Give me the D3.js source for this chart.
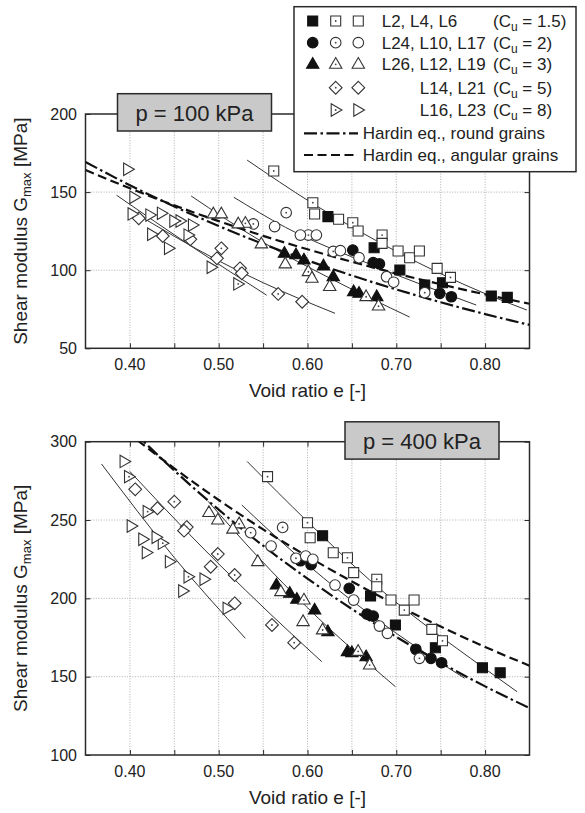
<!DOCTYPE html>
<html>
<head>
<meta charset="utf-8">
<script src="https://cdn.jsdelivr.net/npm/d3@7"></script>
<style>
  body { margin: 0; background: #fff; }
  svg { display: block; }
  text { font-family: "Liberation Sans", Arial, Helvetica, sans-serif; fill: #222; }
</style>
</head>
<body>
<svg id="chart" width="585" height="813"></svg>
<script>
// ---- Measured data: [void ratio e, Gmax in MPa] ----
// p = 100 kPa
const L2_p100  = [[0.623,134.3],[0.675,114.4],[0.704,100.1],[0.732,90.5],[0.752,92.0],[0.807,83.5],[0.825,82.6]];
const L4_p100  = [[0.562,163.5],[0.606,143.2],[0.651,130.4],[0.684,122.5],[0.761,95.4]];
const L6_p100  = [[0.608,136.0],[0.635,132.6],[0.657,125.1],[0.684,117.2],[0.702,112.3],[0.715,108.0],[0.726,112.3],[0.746,101.2]];
const L24_p100 = [[0.651,112.9],[0.674,104.8],[0.681,104.0],[0.749,85.2],[0.762,83.0]];
const L10_p100 = [[0.539,129.6],[0.576,136.8],[0.601,122.5],[0.629,112.0],[0.732,85.6]];
const L17_p100 = [[0.563,127.9],[0.592,122.5],[0.610,122.5],[0.637,112.5],[0.658,108.0],[0.689,95.8],[0.697,92.3]];
const L26_p100 = [[0.574,110.8],[0.587,109.8],[0.596,106.5],[0.618,102.7],[0.629,95.8],[0.652,86.2],[0.658,85.2],[0.678,83.0]];
const L12_p100 = [[0.530,130.0],[0.601,99.0],[0.666,83.0],[0.680,77.0]];
const L19_p100 = [[0.494,136.0],[0.503,136.0],[0.522,129.6],[0.548,116.8],[0.575,104.0],[0.605,94.8],[0.625,89.5]];
const L14_p100 = [[0.503,114.0],[0.524,101.2],[0.567,84.8]];
const L21_p100 = [[0.410,133.2],[0.437,121.9],[0.468,119.8],[0.498,107.6],[0.526,98.0],[0.594,79.8]];
const L16_p100 = [[0.457,131.5],[0.522,91.2]];
const L23_p100 = [[0.398,164.6],[0.405,146.7],[0.403,136.0],[0.423,135.3],[0.425,123.0],[0.436,136.4],[0.444,114.0],[0.450,131.5],[0.466,122.5],[0.471,128.9],[0.492,101.9]];

// p = 400 kPa
const L2_p400  = [[0.617,240.0],[0.671,201.5],[0.699,183.0],[0.744,168.5],[0.797,155.7],[0.817,152.5]];
const L4_p400  = [[0.555,277.7],[0.600,248.3],[0.645,225.9],[0.678,212.2],[0.709,192.5],[0.752,172.9]];
const L6_p400  = [[0.603,238.7],[0.629,229.1],[0.652,216.4],[0.678,207.4],[0.694,198.9],[0.720,198.9],[0.740,180.2]];
const L24_p400 = [[0.592,224.0],[0.604,221.5],[0.647,206.4],[0.667,190.0],[0.674,188.7],[0.722,167.5],[0.739,161.7],[0.751,158.9]];
const L10_p400 = [[0.536,241.9],[0.572,245.3],[0.587,225.6],[0.726,161.7]];
const L17_p400 = [[0.559,233.4],[0.598,227.0],[0.606,224.9],[0.631,208.5],[0.652,198.9],[0.681,182.3],[0.690,177.7]];
const L26_p400 = [[0.565,208.5],[0.580,203.2],[0.588,199.4],[0.608,192.5],[0.623,178.7],[0.645,165.9],[0.650,165.3],[0.666,162.7]];
const L12_p400 = [[0.523,247.5],[0.596,198.9],[0.617,179.8],[0.657,166.1],[0.670,157.4]];
const L19_p400 = [[0.489,254.7],[0.499,250.0],[0.516,244.1],[0.544,223.4],[0.570,204.2],[0.595,185.1]];
const L14_p400 = [[0.450,261.7],[0.464,245.5],[0.499,228.3],[0.518,214.9],[0.560,183.0],[0.585,171.7]];
const L21_p400 = [[0.406,269.6],[0.431,257.5],[0.461,243.2],[0.491,220.2],[0.518,196.8]];
const L16_p400 = [[0.399,277.7],[0.420,255.3],[0.437,235.2],[0.466,213.8]];
const L23_p400 = [[0.394,287.4],[0.402,246.2],[0.415,237.7],[0.419,229.2],[0.430,239.0],[0.445,223.4],[0.460,204.7],[0.484,212.2],[0.510,193.6]];

// Fitted trend curves for each Cu group
const fitCu15_p100 = [[0.532,170.5],[0.605,143.0],[0.700,112.0],[0.800,85.0],[0.847,74.5]];
const fitCu2_p100  = [[0.517,146.7],[0.575,127.5],[0.674,103.0],[0.790,77.7]];
const fitCu3_p100  = [[0.469,147.5],[0.548,118.5],[0.630,93.5],[0.715,70.0]];
const fitCu5_p100  = [[0.400,138.5],[0.500,106.0],[0.550,92.0],[0.631,72.4]];
const fitCu8_p100  = [[0.385,148.0],[0.470,115.0],[0.554,84.0]];
const fitCu15_p400 = [[0.532,287.4],[0.600,249.0],[0.670,211.7],[0.800,155.0],[0.836,140.4]];
const fitCu2_p400  = [[0.526,259.6],[0.580,231.4],[0.631,207.0],[0.700,177.7],[0.777,149.0]];
const fitCu3_p400  = [[0.488,262.0],[0.545,226.0],[0.600,194.0],[0.699,143.6]];
const fitCu5_p400  = [[0.400,281.0],[0.460,245.0],[0.500,222.0],[0.560,189.0],[0.616,159.6]];
const fitCu8_p400  = [[0.368,285.8],[0.450,226.0],[0.530,174.5]];

// Hardin equation curves
const hardinE = [0.35,0.40,0.45,0.50,0.55,0.60,0.65,0.70,0.75,0.80,0.85];
const hardinRound_p100   = [169.3,154.4,140.8,128.3,116.8,106.3,96.6,87.7,79.5,71.9,65.0];
const hardinAngular_p100 = [164.2,152.4,141.5,131.4,122.0,113.4,105.4,97.9,91.0,84.5,78.5];
const hardinRound_p400   = [338.6,308.8,281.6,256.6,233.6,212.6,193.2,175.4,159.0,143.8,130.0];
const hardinAngular_p400 = [328.4,304.8,283.0,262.8,244.0,226.8,210.8,195.8,182.0,169.0,157.0];

// Axis ticks
const xTickValues  = [0.40,0.45,0.50,0.55,0.60,0.65,0.70,0.75,0.80];
const xLabelValues = [0.40,0.50,0.60,0.70,0.80];
const yTicks_p100  = [50,100,150,200];
const yTicks_p400  = [100,150,200,250,300];

// Sample descriptions
const samples = [
  {name:'L2',  shape:'square',   style:'filled', p100:L2_p100,  p400:L2_p400},
  {name:'L4',  shape:'square',   style:'dotted', p100:L4_p100,  p400:L4_p400},
  {name:'L6',  shape:'square',   style:'open',   p100:L6_p100,  p400:L6_p400},
  {name:'L24', shape:'circle',   style:'filled', p100:L24_p100, p400:L24_p400},
  {name:'L10', shape:'circle',   style:'dotted', p100:L10_p100, p400:L10_p400},
  {name:'L17', shape:'circle',   style:'open',   p100:L17_p100, p400:L17_p400},
  {name:'L26', shape:'triangle', style:'filled', p100:L26_p100, p400:L26_p400},
  {name:'L12', shape:'triangle', style:'dotted', p100:L12_p100, p400:L12_p400},
  {name:'L19', shape:'triangle', style:'open',   p100:L19_p100, p400:L19_p400},
  {name:'L14', shape:'diamond',  style:'dotted', p100:L14_p100, p400:L14_p400},
  {name:'L21', shape:'diamond',  style:'open',   p100:L21_p100, p400:L21_p400},
  {name:'L16', shape:'triRight', style:'dotted', p100:L16_p100, p400:L16_p400},
  {name:'L23', shape:'triRight', style:'open',   p100:L23_p100, p400:L23_p400}
];

const legendRows = [
  {shape:'square',   styles:['filled','dotted','open'], names:'L2, L4, L6',    cu:'1.5', align:'start'},
  {shape:'circle',   styles:['filled','dotted','open'], names:'L24, L10, L17', cu:'2',   align:'start'},
  {shape:'triangle', styles:['filled','dotted','open'], names:'L26, L12, L19', cu:'3',   align:'start'},
  {shape:'diamond',  styles:[null,'dotted','open'],     names:'L14, L21',      cu:'5',   align:'end'},
  {shape:'triRight', styles:[null,'dotted','open'],     names:'L16, L23',      cu:'8',   align:'end'}
];

// ---- Drawing ----
const svg = d3.select('#chart');
const INK = '#2a2a2a';
const ROUND_DASH = '13,3.5,2.5,3.5';
const ANGULAR_DASH = '9,4.5';

const shapePath = {
  square:   'M-5,-5H5V5H-5Z',
  circle:   d3.symbol(d3.symbolCircle, Math.PI * 5.3 * 5.3)(),
  triangle: 'M0,-6.8L6.2,3.9L-6.2,3.9Z',
  diamond:  'M0,-6.4L6.4,0L0,6.4L-6.4,0Z',
  triRight: 'M-4.5,-6.2L6.2,0L-4.5,6.2Z'
};

function drawMarker(g, shape, style, cx, cy) {
  const m = g.append('g').attr('transform', `translate(${cx},${cy})`);
  m.append('path')
    .attr('d', shapePath[shape])
    .attr('fill', style === 'filled' ? '#111' : '#fff')
    .attr('stroke', style === 'filled' ? '#111' : '#333')
    .attr('stroke-width', 1.1);
  if (style === 'dotted') {
    m.append('circle').attr('r', 0.9).attr('fill', '#444');
  }
}

const x = d3.scaleLinear().domain([0.35, 0.85]).range([85.5, 529.5]);

const panels = [
  {key:'p100', domain:[50,200],  range:[348.3,114],  yTicks:yTicks_p100, label:'p = 100 kPa', box:[117.5,93.7],
   fits:[fitCu15_p100,fitCu2_p100,fitCu3_p100,fitCu5_p100,fitCu8_p100],
   round:hardinRound_p100, angular:hardinAngular_p100},
  {key:'p400', domain:[100,300], range:[755,441.7],  yTicks:yTicks_p400, label:'p = 400 kPa', box:[345,421.8],
   fits:[fitCu15_p400,fitCu2_p400,fitCu3_p400,fitCu5_p400,fitCu8_p400],
   round:hardinRound_p400, angular:hardinAngular_p400}
];

panels.forEach((P, i) => {
  const y = d3.scaleLinear().domain(P.domain).range(P.range);
  const [x0, x1] = x.range();
  const yb = P.range[0], yt = P.range[1];
  const g = svg.append('g');

  const clipId = 'clip-' + P.key;
  svg.append('clipPath').attr('id', clipId)
    .append('rect').attr('x', x0).attr('y', yt).attr('width', x1 - x0).attr('height', yb - yt);

  // grid
  const grid = g.append('g').attr('stroke', '#9a9a9a').attr('stroke-width', 0.8).attr('stroke-dasharray', '1,1.6');
  grid.selectAll('line.v').data(xTickValues).join('line')
    .attr('x1', d => x(d)).attr('x2', d => x(d)).attr('y1', yt).attr('y2', yb);
  grid.selectAll('line.h').data(P.yTicks.filter(v => v > P.domain[0] && v < P.domain[1])).join('line')
    .attr('x1', x0).attr('x2', x1).attr('y1', d => y(d)).attr('y2', d => y(d));

  // axes (inward ticks on all four sides)
  const axB = g.append('g').attr('transform', `translate(0,${yb})`)
    .call(d3.axisTop(x).tickValues(xTickValues).tickSize(5).tickFormat(''));
  const axT = g.append('g').attr('transform', `translate(0,${yt})`)
    .call(d3.axisBottom(x).tickValues(xTickValues).tickSize(5).tickFormat(''));
  const axL = g.append('g').attr('transform', `translate(${x0},0)`)
    .call(d3.axisRight(y).tickValues(P.yTicks).tickSize(5).tickFormat(''));
  const axR = g.append('g').attr('transform', `translate(${x1},0)`)
    .call(d3.axisLeft(y).tickValues(P.yTicks).tickSize(5).tickFormat(''));
  [axB, axT, axL, axR].forEach(a => {
    a.select('.domain').remove();
    a.selectAll('line').attr('stroke', INK).attr('stroke-width', 1);
  });
  g.append('rect').attr('x', x0).attr('y', yt).attr('width', x1 - x0).attr('height', yb - yt)
    .attr('fill', 'none').attr('stroke', INK).attr('stroke-width', 1.5);

  // tick labels
  g.selectAll('text.xl').data(xLabelValues).join('text')
    .attr('x', d => x(d)).attr('y', yb + 21.5).attr('text-anchor', 'middle')
    .attr('font-size', 16).text(d => d3.format('.2f')(d));
  g.selectAll('text.yl').data(P.yTicks).join('text')
    .attr('x', 77).attr('y', d => y(d)).attr('dy', '0.35em').attr('text-anchor', 'end')
    .attr('font-size', 16).text(d => d);

  // axis titles
  g.append('text').attr('x', (x0 + x1) / 2).attr('y', yb + 49).attr('text-anchor', 'middle')
    .attr('font-size', 19).text('Void ratio e [-]');
  const yTitle = g.append('text').attr('text-anchor', 'middle').attr('font-size', 19)
    .attr('transform', `translate(27,${(yt + yb) / 2}) rotate(-90)`);
  yTitle.append('tspan').text('Shear modulus G');
  yTitle.append('tspan').attr('font-size', 13).attr('dy', 4).text('max');
  yTitle.append('tspan').attr('dy', -4).text(' [MPa]');

  // curves
  const plot = g.append('g').attr('clip-path', `url(#${clipId})`);
  const line = d3.line().x(d => x(d[0])).y(d => y(d[1])).curve(d3.curveMonotoneX);
  plot.selectAll('path.fit').data(P.fits).join('path')
    .attr('d', line).attr('fill', 'none').attr('stroke', '#333').attr('stroke-width', 1);
  plot.append('path').datum(hardinE.map((e, k) => [e, P.angular[k]]))
    .attr('d', line).attr('fill', 'none').attr('stroke', '#111').attr('stroke-width', 2.2)
    .attr('stroke-dasharray', ANGULAR_DASH);
  plot.append('path').datum(hardinE.map((e, k) => [e, P.round[k]]))
    .attr('d', line).attr('fill', 'none').attr('stroke', '#111').attr('stroke-width', 2.2)
    .attr('stroke-dasharray', ROUND_DASH);

  // markers
  const mk = g.append('g');
  samples.forEach(s => {
    s[P.key].forEach(d => drawMarker(mk, s.shape, s.style, x(d[0]), y(d[1])));
  });

  // pressure label
  const [bx, by] = P.box;
  g.append('rect').attr('x', bx).attr('y', by).attr('width', 154).attr('height', 37.3)
    .attr('fill', '#c9c9c9').attr('stroke', INK).attr('stroke-width', 1.5);
  g.append('text').attr('x', bx + 77).attr('y', by + 26.8).attr('text-anchor', 'middle')
    .attr('font-size', 22).text(P.label);
});

// ---- Legend ----
const lg = svg.append('g');
lg.append('rect').attr('x', 294).attr('y', 6.7).attr('width', 282).attr('height', 165)
  .attr('fill', '#fff').attr('stroke', INK).attr('stroke-width', 1.5);
const rowY = [21, 42.7, 64.3, 87.7, 110, 133.3, 155];
const markerX = [312.7, 335.7, 358.3];
legendRows.forEach((r, i) => {
  r.styles.forEach((st, j) => { if (st) drawMarker(lg, r.shape, st, markerX[j], rowY[i]); });
  lg.append('text').attr('x', r.align === 'start' ? 381.7 : 486).attr('y', rowY[i] + 6)
    .attr('text-anchor', r.align).attr('font-size', 17).text(r.names);
  const t = lg.append('text').attr('x', 493).attr('y', rowY[i] + 6).attr('font-size', 17);
  t.append('tspan').text('(C');
  t.append('tspan').attr('font-size', 12).attr('dy', 4).text('u');
  t.append('tspan').attr('dy', -4).text(` = ${r.cu})`);
});
[[ROUND_DASH, 'Hardin eq., round grains'], [ANGULAR_DASH, 'Hardin eq., angular grains']].forEach(([dash, label], k) => {
  const yy = rowY[5 + k];
  lg.append('line').attr('x1', 304).attr('x2', 358).attr('y1', yy).attr('y2', yy)
    .attr('stroke', '#111').attr('stroke-width', 2.2).attr('stroke-dasharray', dash);
  lg.append('text').attr('x', 362.7).attr('y', yy + 6).attr('font-size', 17).text(label);
});
</script>
</body>
</html>
